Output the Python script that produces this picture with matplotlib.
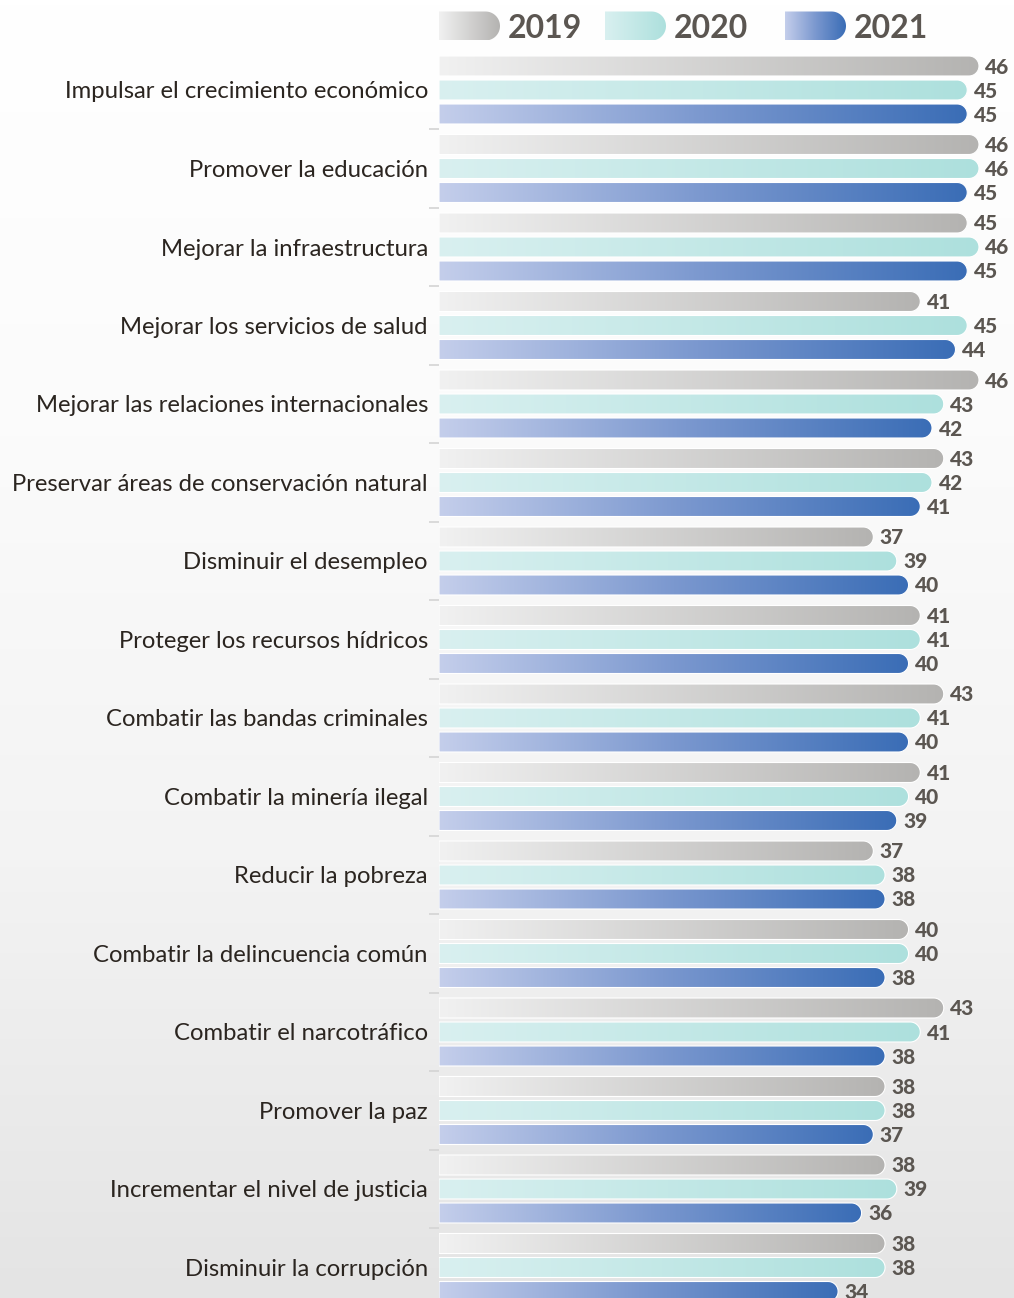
import matplotlib.pyplot as plt
import numpy as np
from matplotlib.patches import Polygon
from matplotlib.colors import LinearSegmentedColormap

# datos
categorias = [
    'Impulsar el crecimiento económico',
    'Promover la educación',
    'Mejorar la infraestructura',
    'Mejorar los servicios de salud',
    'Mejorar las relaciones internacionales',
    'Preservar áreas de conservación natural',
    'Disminuir el desempleo',
    'Proteger los recursos hídricos',
    'Combatir las bandas criminales',
    'Combatir la minería ilegal',
    'Reducir la pobreza',
    'Combatir la delincuencia común',
    'Combatir el narcotráfico',
    'Promover la paz',
    'Incrementar el nivel de justicia',
    'Disminuir la corrupción',
]
anios = ['2019', '2020', '2021']
v2019 = [46, 46, 45, 41, 46, 43, 37, 41, 43, 41, 37, 40, 43, 38, 38, 38]
v2020 = [45, 46, 46, 45, 43, 42, 39, 41, 41, 40, 38, 40, 41, 38, 39, 38]
v2021 = [45, 45, 45, 44, 42, 41, 40, 40, 40, 39, 38, 38, 38, 37, 36, 34]

# gradientes de cada serie (izquierda -> derecha)
mapas = [
    LinearSegmentedColormap.from_list('g19', ['#f1f1f1', '#b4b3b1']),
    LinearSegmentedColormap.from_list('g20', ['#d9f0f0', '#ade0dd']),
    LinearSegmentedColormap.from_list('g21', ['#c4ceeb', '#7b98cf', '#3a6db6']),
]
gris_txt = '#5b5651'

W, H = 1014, 1298
px_x = 540 / 46          # pixeles por unidad de valor
px_y = 78.5              # pixeles por categoria
x0_px, y0_px = 439, 90   # origen de las barras / centro del primer grupo

fig = plt.figure(figsize=(W / 100, H / 100), dpi=100)

# fondo degradado
bg = fig.add_axes([0, 0, 1, 1], zorder=-1)
fondo = LinearSegmentedColormap.from_list('bg', ['#ffffff', '#fbfbfb', '#f3f3f3', '#e4e4e4'])
bg.imshow(np.linspace(0, 1, 256).reshape(-1, 1), cmap=fondo, aspect='auto', extent=[0, 1, 0, 1])
bg.axis('off')

ax = fig.add_axes([x0_px / W, 0, (W - x0_px) / W, 1])
ax.set_facecolor('none')


def barra(ax, x0, x1, yc, h, rx, cmap, borde=True):
    # rectangulo con el extremo derecho redondeado
    ry = h / 2
    t = np.linspace(np.pi / 2, -np.pi / 2, 30)
    cx = max(x1 - rx, x0)
    xs = np.concatenate([[x0, cx], cx + rx * np.cos(t), [x0]])
    ys = np.concatenate([[yc - ry, yc - ry], yc - ry * np.sin(t), [yc + ry]])
    poly = Polygon(np.column_stack([xs, ys]), closed=True, facecolor='none',
                   edgecolor='white' if borde else 'none', lw=0.8, zorder=3)
    ax.add_patch(poly)
    im = ax.imshow(np.linspace(0, 1, 256).reshape(1, -1), cmap=cmap,
                   extent=[x0, x1, yc + ry, yc - ry], aspect='auto',
                   interpolation='bicubic', zorder=2)
    im.set_clip_path(poly)


h = 20 / px_y
offs = np.array([-24, 0, 24]) / px_y
rx = 10 / px_x

for j, vals in enumerate([v2019, v2020, v2021]):
    for i, v in enumerate(vals):
        yc = i + offs[j]
        barra(ax, 0, v, yc, h, rx, mapas[j])
        ax.text(v + 0.55, yc + 1 / px_y, str(v), va='center', ha='left', fontsize=15,
                fontweight='black', color=gris_txt, family='Lato')

# leyenda
ley_x = [439, 605, 785]
ley_yc = (26 - y0_px) / px_y
ley_h = 29 / px_y
for j, anio in enumerate(anios):
    xa = (ley_x[j] - x0_px) / px_x
    xb = xa + 61 / px_x
    barra(ax, xa, xb, ley_yc, ley_h, 14.5 / px_x, mapas[j], borde=False)
    ax.text(xb + 8 / px_x, ley_yc + 2 / px_y, anio, va='center', ha='left', fontsize=23,
            fontweight='bold', color=gris_txt, family='Lato')

ax.set_xlim(0, (W - x0_px) / px_x)
ax.set_ylim((H - y0_px) / px_y, -y0_px / px_y)

ax.set_yticks(range(len(categorias)))
ax.set_yticklabels(categorias, fontsize=17.2, color='#2b2520', family='Lato')
ax.set_yticks(np.arange(len(categorias) - 1) + 0.5, minor=True)
ax.tick_params(axis='y', which='major', length=0, pad=8)
ax.tick_params(axis='y', which='minor', length=7, width=1.2, color='#d4d4d4')
ax.set_xticks([])
for s in ax.spines.values():
    s.set_visible(False)

fig.savefig('out.png', dpi=100)
